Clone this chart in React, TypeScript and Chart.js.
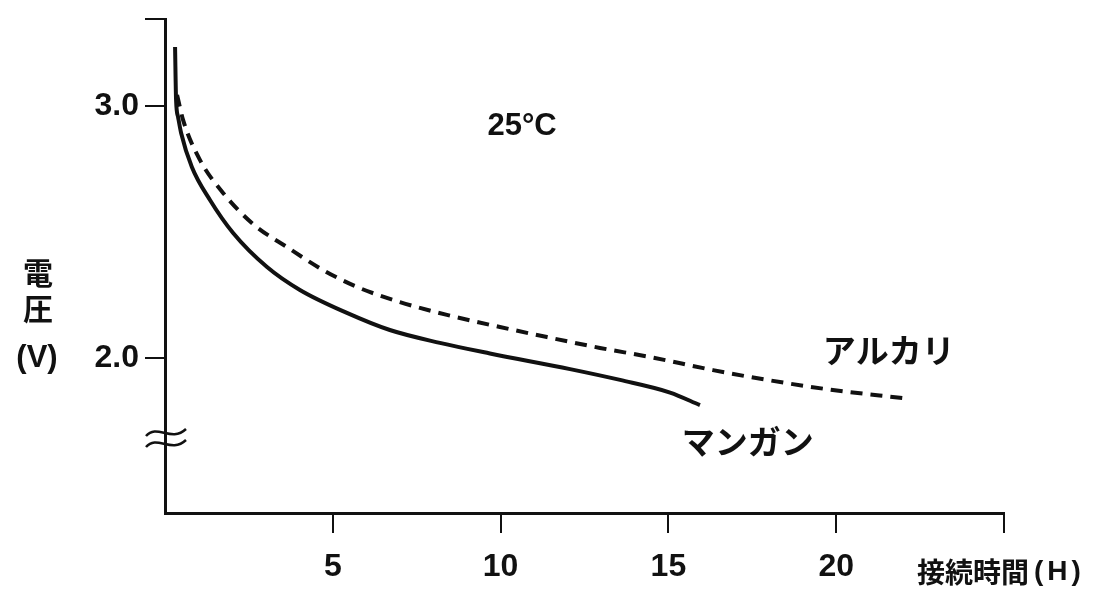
import React, { useEffect, useRef } from "react";
import { Chart, registerables } from "chart.js";

Chart.register(...registerables);

// ---- data ----
const manganTime = [0.3, 0.33, 0.39, 0.48, 0.8, 1.34, 2.03, 3.04, 4.02, 5.42, 6.7, 8.19, 9.68, 12.07, 13.56, 15.05, 15.94];
const manganVolt = [3.234, 3.024, 2.956, 2.893, 2.758, 2.627, 2.496, 2.361, 2.27, 2.179, 2.111, 2.06, 2.018, 1.956, 1.913, 1.863, 1.813];

const alkaliTime = [0.36, 0.54, 1.04, 1.73, 2.62, 3.67, 4.71, 5.72, 7.0, 8.4, 9.98, 11.38, 12.96, 14.45, 16.33, 17.94, 19.9, 21.99];
const alkaliVolt = [3.044, 2.944, 2.786, 2.655, 2.532, 2.437, 2.349, 2.282, 2.222, 2.171, 2.123, 2.083, 2.04, 2.004, 1.952, 1.913, 1.873, 1.841];

const xTickValues = [5, 10, 15, 20, 25];
const xTickLabels = ["5", "10", "15", "20", ""];
const yTickValues = [2.0, 3.0, 3.345];
const yTickLabels = ["2.0", "3.0", ""];

const X_MIN = 0;
const X_MAX = 25;
const Y_MIN = 1.385;
const Y_MAX = 3.345;

const seriesMangan = "マンガン";
const seriesAlkali = "アルカリ";
const tempLabel = "25°C";
const yTitleLines = ["電", "圧", "(V)"];
const xTitleMain = "接続時間";
const xTitleUnit = "(H)";

const LATIN = "'Liberation Sans', Arial, sans-serif";
const CJK = "'Noto Sans CJK JP', sans-serif";

const toPoints = (xs: number[], ys: number[]) => xs.map((x, i) => ({ x, y: ys[i] }));

const annotate = {
  id: "annotate",
  afterDraw(chart: any) {
    const { ctx, chartArea, scales } = chart;
    const xs = scales.x;
    const ys = scales.y;
    ctx.save();
    ctx.fillStyle = "#111";
    ctx.textBaseline = "middle";

    // temperature
    ctx.font = `bold 31px ${LATIN}`;
    ctx.textAlign = "center";
    ctx.fillText(tempLabel, xs.getPixelForValue(10.64), ys.getPixelForValue(2.917));

    // series labels
    ctx.font = `bold 33px ${CJK}`;
    ctx.textAlign = "left";
    ctx.fillText(seriesAlkali, xs.getPixelForValue(19.6), ys.getPixelForValue(2.03));
    ctx.fillText(seriesMangan, xs.getPixelForValue(15.4), ys.getPixelForValue(1.67));

    // y title (stacked, horizontal)
    ctx.textAlign = "center";
    ctx.font = `bold 30px ${CJK}`;
    ctx.fillText(yTitleLines[0], 38, 273);
    ctx.fillText(yTitleLines[1], 38, 309);
    ctx.font = `bold 31px ${LATIN}`;
    ctx.fillText(yTitleLines[2], 37, 358);

    // x title
    ctx.textAlign = "left";
    ctx.font = `bold 28px ${CJK}`;
    ctx.fillText(xTitleMain, 917, 572);
    ctx.font = `bold 28px ${LATIN}`;
    (ctx as any).letterSpacing = "4px";
    ctx.fillText(xTitleUnit, 1034, 572);
    (ctx as any).letterSpacing = "0px";

    // axis break symbol
    const bx = chartArea.left;
    const by = 438;
    ctx.strokeStyle = "#111";
    ctx.lineWidth = 2.5;
    for (const dy of [-5, 6]) {
      ctx.beginPath();
      ctx.moveTo(bx - 19, by + dy + 3);
      ctx.bezierCurveTo(bx - 8, by + dy - 10, bx + 6, by + dy + 10, bx + 21, by + dy - 4);
      ctx.stroke();
    }
    ctx.restore();
  },
};

export default function App() {
  const ref = useRef<HTMLCanvasElement>(null);

  useEffect(() => {
    if (!ref.current) return;
    const chart = new Chart(ref.current, {
      type: "line",
      data: {
        datasets: [
          {
            label: seriesMangan,
            data: toPoints(manganTime, manganVolt),
            borderColor: "#111",
            borderWidth: 4,
            pointRadius: 0,
            cubicInterpolationMode: "monotone",
            fill: false,
          },
          {
            label: seriesAlkali,
            data: toPoints(alkaliTime, alkaliVolt),
            borderColor: "#111",
            borderWidth: 4,
            borderDash: [12, 8],
            pointRadius: 0,
            cubicInterpolationMode: "monotone",
            fill: false,
          },
        ],
      },
      options: {
        animation: false,
        responsive: false,
        devicePixelRatio: 1,
        layout: { padding: { top: 19, right: 91, left: 0, bottom: 0 } },
        plugins: {
          legend: { display: false },
          tooltip: { enabled: false },
        },
        scales: {
          x: {
            type: "linear",
            min: X_MIN,
            max: X_MAX,
            afterBuildTicks: (scale: any) => {
              scale.ticks = xTickValues.map((v) => ({ value: v }));
            },
            afterFit: (scale: any) => {
              scale.height = 76;
            },
            ticks: {
              autoSkip: false,
              maxRotation: 0,
              padding: 15,
              color: "#111",
              font: { size: 32, weight: "bold", family: LATIN },
              callback: (v: any) => {
                const i = xTickValues.indexOf(Number(v));
                return i >= 0 ? xTickLabels[i] : "";
              },
            },
            grid: {
              display: true,
              drawOnChartArea: false,
              drawTicks: true,
              tickLength: 20,
              color: "#111",
              lineWidth: 2,
            },
            border: { display: true, color: "#111", width: 3 },
          },
          y: {
            type: "linear",
            min: Y_MIN,
            max: Y_MAX,
            afterBuildTicks: (scale: any) => {
              scale.ticks = yTickValues.map((v) => ({ value: v }));
            },
            afterFit: (scale: any) => {
              scale.width = 165;
            },
            ticks: {
              autoSkip: false,
              padding: 6,
              color: "#111",
              font: (c: any) =>
                c.tick && c.tick.value > 3.2
                  ? { size: 1, family: LATIN }
                  : { size: 32, weight: "bold", family: LATIN },
              callback: (v: any) => {
                const i = yTickValues.indexOf(Number(v));
                return i >= 0 ? yTickLabels[i] : "";
              },
            },
            grid: {
              display: true,
              drawOnChartArea: false,
              drawTicks: true,
              tickLength: 20,
              color: "#111",
              lineWidth: 2,
            },
            border: { display: true, color: "#111", width: 3 },
          },
        },
      },
      plugins: [annotate],
    });
    return () => chart.destroy();
  }, []);

  return (
    <div style={{ position: "fixed", left: 0, top: 0, width: 1095, height: 589, background: "#fff" }}>
      <canvas ref={ref} width={1095} height={589} style={{ width: 1095, height: 589, display: "block" }} />
    </div>
  );
}
